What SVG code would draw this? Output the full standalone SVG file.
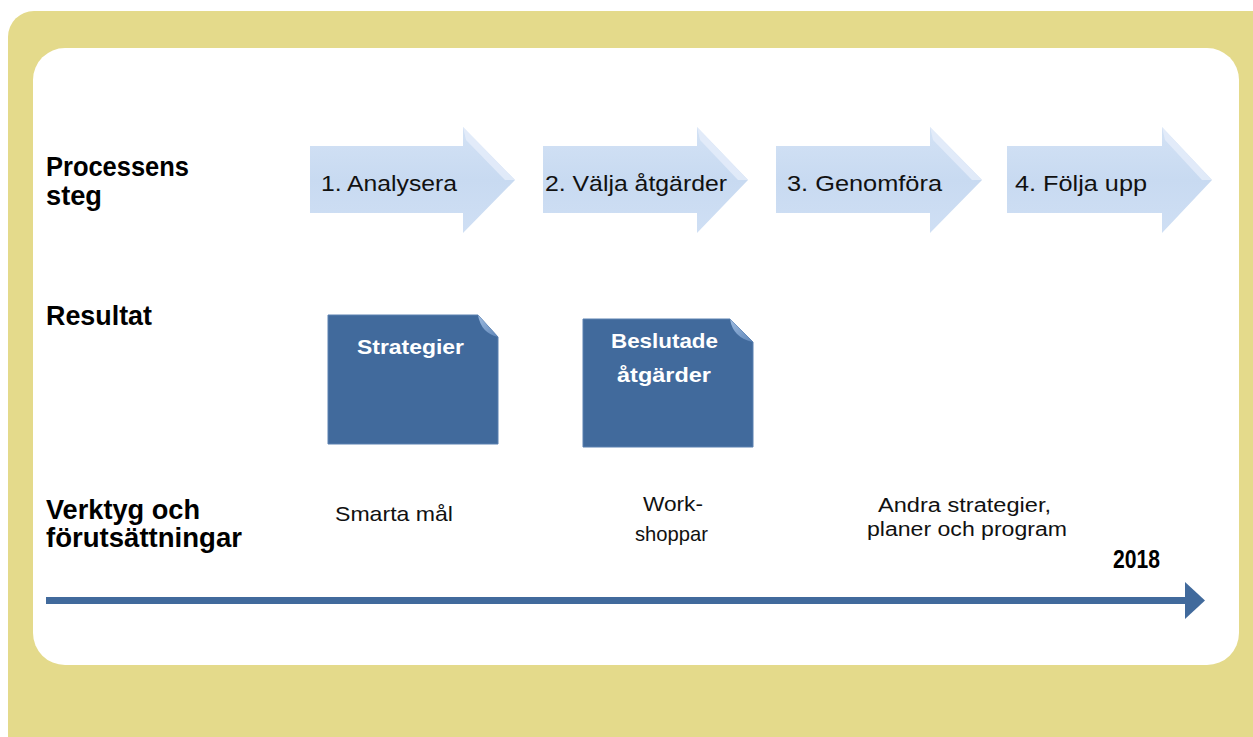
<svg xmlns="http://www.w3.org/2000/svg" width="1253" height="737" viewBox="0 0 1253 737">
  <defs>
    <linearGradient id="arrowGrad" x1="0" y1="0" x2="0" y2="1">
      <stop offset="0" stop-color="#d3e2f5"/>
      <stop offset="0.5" stop-color="#c8daf1"/>
      <stop offset="1" stop-color="#cfdff4"/>
    </linearGradient>
    <linearGradient id="foldGrad" x1="0" y1="0" x2="1" y2="1">
      <stop offset="0" stop-color="#9dbbe0"/>
      <stop offset="1" stop-color="#5f86b8"/>
    </linearGradient>
    <style>
      .label { font-family: "Liberation Sans", Arial, sans-serif; font-weight: bold; font-size: 27px; fill: #000; }
      .step { font-family: "Liberation Sans", Arial, sans-serif; font-size: 22px; fill: #111; }
      .tool { font-family: "Liberation Sans", Arial, sans-serif; font-size: 21px; fill: #111; }
      .tool2 { font-family: "Liberation Sans", Arial, sans-serif; font-size: 20px; fill: #111; }
      .box { fill: #416a9c; stroke: #5a80b0; stroke-width: 1; }
      .boxtext { font-family: "Liberation Sans", Arial, sans-serif; font-weight: bold; font-size: 21px; fill: #fff; }
      .parrow { fill: url(#arrowGrad); }
      .hl { fill: #e6eefa; opacity: 0.8; }
      .fold { fill: url(#foldGrad); }
      .year { font-family: "Liberation Sans", Arial, sans-serif; font-weight: bold; font-size: 25px; fill: #000; }
    </style>
  </defs>

  <!-- background -->
  <rect x="8" y="11" width="1275" height="760" rx="26" ry="26" fill="#e4da8b"/>
  <rect x="33" y="48" width="1206" height="617" rx="32" ry="32" fill="#ffffff"/>

  <!-- row labels -->
  <g id="labels">
    <text class="label" x="46" y="176" textLength="143" lengthAdjust="spacingAndGlyphs">Processens</text>
    <text class="label" x="46" y="205" textLength="56" lengthAdjust="spacingAndGlyphs">steg</text>
    <text class="label" x="46" y="325" textLength="106" lengthAdjust="spacingAndGlyphs">Resultat</text>
    <text class="label" x="46" y="519" textLength="154" lengthAdjust="spacingAndGlyphs">Verktyg och</text>
    <text class="label" x="46" y="547" textLength="196" lengthAdjust="spacingAndGlyphs">förutsättningar</text>
  </g>

  <!-- process steps -->
  <g id="step1">
    <polygon class="parrow" points="310,146 463,146 463,127 515,180 463,233 463,213 310,213"/>
    <polygon class="hl" points="463,127 515,180 505,180 466,140"/>
    <text class="step" x="321" y="191" textLength="136" lengthAdjust="spacingAndGlyphs">1. Analysera</text>
  </g>
  <g id="step2">
    <polygon class="parrow" points="543,146 697,146 697,127 748,180 697,233 697,213 543,213"/>
    <polygon class="hl" points="697,127 748,180 738,180 700,140"/>
    <text class="step" x="545" y="191" textLength="182" lengthAdjust="spacingAndGlyphs">2. Välja åtgärder</text>
  </g>
  <g id="step3">
    <polygon class="parrow" points="776,146 930,146 930,127 982,180 930,233 930,213 776,213"/>
    <polygon class="hl" points="930,127 982,180 972,180 933,140"/>
    <text class="step" x="787" y="191" textLength="155" lengthAdjust="spacingAndGlyphs">3. Genomföra</text>
  </g>
  <g id="step4">
    <polygon class="parrow" points="1007,146 1162,146 1162,127 1212,180 1162,233 1162,213 1007,213"/>
    <polygon class="hl" points="1162,127 1212,180 1202,180 1165,140"/>
    <text class="step" x="1015" y="191" textLength="132" lengthAdjust="spacingAndGlyphs">4. Följa upp</text>
  </g>

  <!-- results -->
  <g id="result1">
    <polygon class="box" points="328,315 478,315 498,337 498,444 328,444"/>
    <path class="fold" d="M478,315 Q481,333 498,337 Z"/>
    <text class="boxtext" x="357" y="354" textLength="107" lengthAdjust="spacingAndGlyphs">Strategier</text>
  </g>
  <g id="result2">
    <polygon class="box" points="583,319 730,319 753,342 753,447 583,447"/>
    <path class="fold" d="M730,319 Q733,338 753,342 Z"/>
    <text class="boxtext" x="611" y="348" textLength="107" lengthAdjust="spacingAndGlyphs">Beslutade</text>
    <text class="boxtext" x="617" y="382" textLength="94" lengthAdjust="spacingAndGlyphs">åtgärder</text>
  </g>

  <!-- tools -->
  <g id="tool1">
    <text class="tool" x="335" y="521" textLength="118" lengthAdjust="spacingAndGlyphs">Smarta mål</text>
  </g>
  <g id="tool2">
    <text class="tool" x="643" y="511" textLength="60" lengthAdjust="spacingAndGlyphs">Work-</text>
    <text class="tool" x="635" y="541" textLength="73" lengthAdjust="spacingAndGlyphs">shoppar</text>
  </g>
  <g id="tool3">
    <text class="tool2" x="878" y="512" textLength="173" lengthAdjust="spacingAndGlyphs">Andra strategier,</text>
    <text class="tool2" x="867" y="536" textLength="200" lengthAdjust="spacingAndGlyphs">planer och program</text>
  </g>

  <!-- timeline -->
  <g id="connectors">
    <rect x="46" y="597" width="1140" height="7" fill="#416a9c"/>
    <polygon points="1185,582 1205,600.5 1185,619" fill="#416a9c"/>
  </g>
  <g id="year">
    <text class="year" x="1113" y="568" textLength="47" lengthAdjust="spacingAndGlyphs">2018</text>
  </g>
</svg>
